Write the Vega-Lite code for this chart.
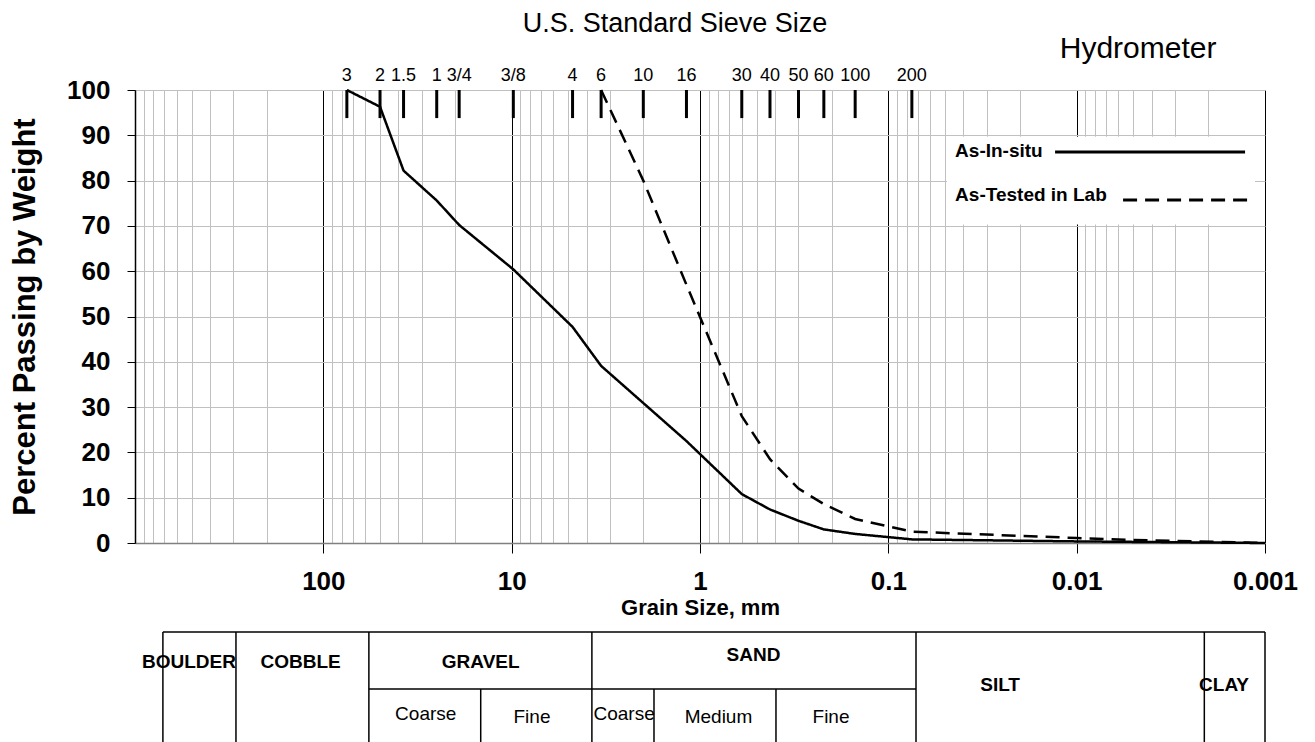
{
  "$schema": "https://vega.github.io/schema/vega-lite/v6.json",
  "background": "white",
  "padding": {"left": 9, "top": 10, "right": 5, "bottom": 0},
  "bounds": "flush",
  "spacing": 89,
  "config": {"view": {"stroke": null}, "font": "Liberation Sans"},
  "datasets": {
    "curves": [
      {"series": "As-In-situ", "x": 75, "y": 100},
      {"series": "As-In-situ", "x": 50, "y": 96.3},
      {"series": "As-In-situ", "x": 37.5, "y": 82.2},
      {"series": "As-In-situ", "x": 25, "y": 75.6},
      {"series": "As-In-situ", "x": 19, "y": 70.2},
      {"series": "As-In-situ", "x": 9.8, "y": 60.4},
      {"series": "As-In-situ", "x": 4.75, "y": 47.7},
      {"series": "As-In-situ", "x": 3.35, "y": 39.1},
      {"series": "As-In-situ", "x": 1.18, "y": 22.5},
      {"series": "As-In-situ", "x": 0.6, "y": 10.8},
      {"series": "As-In-situ", "x": 0.425, "y": 7.4},
      {"series": "As-In-situ", "x": 0.3, "y": 4.9},
      {"series": "As-In-situ", "x": 0.22, "y": 3.0},
      {"series": "As-In-situ", "x": 0.15, "y": 2.0},
      {"series": "As-In-situ", "x": 0.1, "y": 1.3},
      {"series": "As-In-situ", "x": 0.075, "y": 0.8},
      {"series": "As-In-situ", "x": 0.01, "y": 0.35},
      {"series": "As-In-situ", "x": 0.001, "y": 0},
      {"series": "As-Tested in Lab", "x": 3.35, "y": 100},
      {"series": "As-Tested in Lab", "x": 2.0, "y": 80},
      {"series": "As-Tested in Lab", "x": 1.18, "y": 57},
      {"series": "As-Tested in Lab", "x": 0.6, "y": 28},
      {"series": "As-Tested in Lab", "x": 0.425, "y": 18.5},
      {"series": "As-Tested in Lab", "x": 0.3, "y": 12},
      {"series": "As-Tested in Lab", "x": 0.22, "y": 8.6},
      {"series": "As-Tested in Lab", "x": 0.15, "y": 5.3},
      {"series": "As-Tested in Lab", "x": 0.075, "y": 2.5},
      {"series": "As-Tested in Lab", "x": 0.01, "y": 1.1},
      {"series": "As-Tested in Lab", "x": 0.005, "y": 0.65},
      {"series": "As-Tested in Lab", "x": 0.001, "y": 0}
    ],
    "sieves": [
      {"label": "3", "x": 75},
      {"label": "2", "x": 50},
      {"label": "1.5", "x": 37.5},
      {"label": "1", "x": 25},
      {"label": "3/4", "x": 19},
      {"label": "3/8", "x": 9.8},
      {"label": "4", "x": 4.75},
      {"label": "6", "x": 3.35},
      {"label": "10", "x": 2.0},
      {"label": "16", "x": 1.18},
      {"label": "30", "x": 0.6},
      {"label": "40", "x": 0.425},
      {"label": "50", "x": 0.3},
      {"label": "60", "x": 0.22},
      {"label": "100", "x": 0.15},
      {"label": "200", "x": 0.075}
    ],
    "legendBox": [{"x": 0.0488, "x2": 0.00113, "y": 89.7, "y2": 70.3}],
    "legendLines": [
      {"series": "As-In-situ", "x": 0.01302, "x2": 0.001276, "y": 86.3},
      {"series": "As-Tested in Lab", "x": 0.00567, "x2": 0.00113, "y": 75.7}
    ],
    "legendText": [
      {"series": "As-In-situ", "x": 0.0442, "y": 85.2},
      {"series": "As-Tested in Lab", "x": 0.0442, "y": 75.5}
    ],
    "tableLines": [
      {"x": 711, "x2": 0.001, "y": 110, "y2": 110},
      {"x": 711, "x2": 711, "y": 110, "y2": 0},
      {"x": 291, "x2": 291, "y": 110, "y2": 0},
      {"x": 57.3, "x2": 57.3, "y": 110, "y2": 0},
      {"x": 3.75, "x2": 3.75, "y": 110, "y2": 0},
      {"x": 0.0713, "x2": 0.0713, "y": 110, "y2": 0},
      {"x": 0.0021, "x2": 0.0021, "y": 110, "y2": 0},
      {"x": 0.001, "x2": 0.001, "y": 110, "y2": 0},
      {"x": 57.3, "x2": 0.0713, "y": 53, "y2": 53},
      {"x": 14.6, "x2": 14.6, "y": 53, "y2": 0},
      {"x": 1.755, "x2": 1.755, "y": 53, "y2": 0},
      {"x": 0.395, "x2": 0.395, "y": 53, "y2": 0}
    ],
    "tableLabels": [
      {"label": "BOULDER", "level": "main", "x": 517, "y": 80},
      {"label": "COBBLE", "level": "main", "x": 132, "y": 80},
      {"label": "GRAVEL", "level": "main", "x": 14.6, "y": 80},
      {"label": "SAND", "level": "main", "x": 0.52, "y": 87},
      {"label": "SILT", "level": "main", "x": 0.0255, "y": 57},
      {"label": "CLAY", "level": "main", "x": 0.00165, "y": 57},
      {"label": "Coarse", "level": "sub", "x": 28.6, "y": 28},
      {"label": "Fine", "level": "sub", "x": 7.8, "y": 25},
      {"label": "Coarse", "level": "sub", "x": 2.53, "y": 28},
      {"label": "Medium", "level": "sub", "x": 0.798, "y": 25},
      {"label": "Fine", "level": "sub", "x": 0.2015, "y": 25}
    ]
  },
  "vconcat": [
    {
      "width": 1130,
      "height": 453,
      "encoding": {
        "x": {
          "field": "x",
          "type": "quantitative",
          "scale": {"type": "log", "domain": [0.001, 1000], "reverse": true, "nice": false},
          "axis": {
            "title": "Grain Size, mm",
            "titleFont": "Liberation Sans",
            "titleFontSize": 22,
            "titleFontWeight": "bold",
            "titleColor": "black",
            "titlePadding": 3,
            "values": [0.001,0.002,0.003,0.004,0.005,0.006,0.007,0.008,0.009,0.01,0.02,0.03,0.04,0.05,0.06,0.07,0.08,0.09,0.1,0.2,0.3,0.4,0.5,0.6,0.7,0.8,0.9,1,2,3,4,5,6,7,8,9,10,20,30,40,50,60,70,80,90,100,200,300,400,500,600,700,800,900,1000],
            "labelExpr": "indexof([0.001,0.01,0.1,1,10,100], datum.value) >= 0 ? '' + datum.value : ''",
            "labelFont": "Liberation Sans",
            "labelFontSize": 26,
            "labelFontWeight": "bold",
            "labelColor": "black",
            "labelPadding": 15,
            "labelFlush": false,
            "labelOverlap": false,
            "grid": true,
            "gridColor": {"condition": {"test": "indexof([0.001,0.01,0.1,1,10,100,1000], datum.value) >= 0", "value": "#000000"}, "value": "#c0c0c0"},
            "gridWidth": 1,
            "ticks": true,
            "tickSize": 10,
            "tickColor": "#000000",
            "tickWidth": 1,
            "tickOpacity": {"condition": {"test": "indexof([0.001,0.01,0.1,1,10,100], datum.value) >= 0", "value": 1}, "value": 0},
            "domainColor": "#808080",
            "domainWidth": 1.5
          }
        }
      },
      "layer": [
        {
          "data": {"name": "curves"},
          "mark": {"type": "line", "color": "black", "strokeWidth": 2.5},
          "encoding": {
            "y": {
              "field": "y",
              "type": "quantitative",
              "scale": {"domain": [0, 100], "nice": false, "zero": false},
              "axis": {
                "title": "Percent Passing by Weight",
                "titleFont": "Liberation Sans",
                "titleFontSize": 31,
                "titleFontWeight": "bold",
                "titleColor": "black",
                "titlePadding": 25,
                "values": [0,10,20,30,40,50,60,70,80,90,100],
                "labelFont": "Liberation Sans",
                "labelFontSize": 26,
                "labelFontWeight": "bold",
                "labelColor": "black",
                "labelPadding": 17,
                "labelFlush": false,
                "labelOverlap": false,
                "grid": true,
                "gridColor": "#c0c0c0",
                "gridWidth": 1,
                "tickSize": 8,
                "tickColor": "#000000",
                "domainColor": "#000000",
                "domainWidth": 1.5
              }
            },
            "strokeDash": {"field": "series", "type": "nominal", "scale": {"domain": ["As-In-situ", "As-Tested in Lab"], "range": [[1, 0], [14, 8]]}, "legend": null}
          }
        },
        {
          "data": {"name": "legendBox"},
          "mark": {"type": "rect", "fill": "white", "stroke": null},
          "encoding": {"y": {"field": "y", "type": "quantitative"}, "x2": {"field": "x2"}, "y2": {"field": "y2"}}
        },
        {
          "data": {"name": "legendLines"},
          "mark": {"type": "rule", "color": "black", "strokeWidth": 3},
          "encoding": {
            "y": {"field": "y", "type": "quantitative"},
            "x2": {"field": "x2"},
            "strokeDash": {"field": "series", "type": "nominal", "scale": {"domain": ["As-In-situ", "As-Tested in Lab"], "range": [[1, 0], [14, 8]]}, "legend": null}
          }
        },
        {
          "data": {"name": "legendText"},
          "mark": {"type": "text", "align": "left", "baseline": "alphabetic", "fontSize": 19, "fontWeight": "bold", "color": "black"},
          "encoding": {"y": {"field": "y", "type": "quantitative"}, "text": {"field": "series"}}
        },
        {
          "data": {"name": "sieves"},
          "mark": {"type": "rule", "color": "black", "strokeWidth": 3},
          "encoding": {"y": {"datum": 100, "type": "quantitative"}, "y2": {"datum": 93.8}}
        },
        {
          "data": {"name": "sieves"},
          "mark": {"type": "text", "align": "center", "baseline": "alphabetic", "dy": -9, "fontSize": 18, "color": "black"},
          "encoding": {"y": {"datum": 100, "type": "quantitative"}, "text": {"field": "label"}}
        },
        {
          "data": {"values": [{"label": "Hydrometer", "x": 0.00472}]},
          "mark": {"type": "text", "align": "center", "baseline": "alphabetic", "dy": -32, "fontSize": 30, "color": "black"},
          "encoding": {"y": {"datum": 100, "type": "quantitative"}, "text": {"field": "label"}}
        },
        {
          "data": {"values": [{"label": "U.S. Standard Sieve Size", "x": 1.358}]},
          "mark": {"type": "text", "align": "center", "baseline": "alphabetic", "dy": -58, "fontSize": 27, "color": "black"},
          "encoding": {"y": {"datum": 100, "type": "quantitative"}, "text": {"field": "label"}}
        }
      ]
    },
    {
      "width": 1130,
      "height": 110,
      "encoding": {
        "x": {"field": "x", "type": "quantitative", "scale": {"type": "log", "domain": [0.001, 1000], "reverse": true, "nice": false}, "axis": null},
        "y": {"field": "y", "type": "quantitative", "scale": {"domain": [0, 110], "nice": false, "zero": false}, "axis": null}
      },
      "layer": [
        {
          "data": {"name": "tableLines"},
          "mark": {"type": "rule", "color": "black", "strokeWidth": 1.5},
          "encoding": {"x2": {"field": "x2"}, "y2": {"field": "y2"}}
        },
        {
          "data": {"name": "tableLabels"},
          "transform": [{"filter": "datum.level == 'main'"}],
          "mark": {"type": "text", "align": "center", "baseline": "middle", "fontSize": 19, "fontWeight": "bold", "color": "black"},
          "encoding": {"text": {"field": "label"}}
        },
        {
          "data": {"name": "tableLabels"},
          "transform": [{"filter": "datum.level == 'sub'"}],
          "mark": {"type": "text", "align": "center", "baseline": "middle", "fontSize": 19, "color": "black"},
          "encoding": {"text": {"field": "label"}}
        }
      ]
    }
  ]
}
